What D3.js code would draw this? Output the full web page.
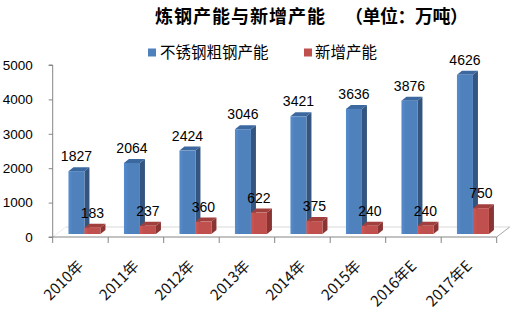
<!DOCTYPE html>
<html>
<head>
<meta charset="utf-8">
<script src="https://cdn.jsdelivr.net/npm/d3@7"></script>
<style>
  html, body { margin: 0; padding: 0; background: #fff; }
  svg { display: block; }
  text { font-family: "Liberation Sans", "Noto Sans CJK SC", sans-serif; }
  .cjk { font-family: "Noto Sans CJK SC", sans-serif; }
</style>
</head>
<body>
<svg id="chart" width="515" height="322"></svg>
<script>
// Capacity figures, 10k tonnes
const categories = ["2010年", "2011年", "2012年", "2013年", "2014年", "2015年", "2016年E", "2017年E"];
const stainlessCapacity = [1827, 2064, 2424, 3046, 3421, 3636, 3876, 4626];
const newCapacity = [183, 237, 360, 622, 375, 240, 240, 750];
const seriesNames = ["不锈钢粗钢产能", "新增产能"];
const yTicks = [0, 1000, 2000, 3000, 4000, 5000];

const svg = d3.select("#chart");

const x = d3.scaleBand().domain(categories).range([52.7, 496.7]).padding(0);
const y = d3.scaleLinear().domain([0, 5000]).range([237, 65]);

// Pseudo-3D geometry
const depthX = 5, depthY = 4;      // visible side/top depth
const lift = 3;                    // bars sit slightly behind the front floor edge
const barW = 16;
const floorDX = 13, floorDY = 10;  // floor depth

const series = [
  { name: seriesNames[0], values: stainlessCapacity, offset: -12,
    front: "#4f81bd", side: "#34557f", top: "#3c68a0" },
  { name: seriesNames[1], values: newCapacity, offset: 4,
    front: "#c0504d", side: "#8a3533", top: "#a13f3c" }
];

// Floor: back edge and side edges
const x0 = x.range()[0], x1 = x.range()[1], y0 = y(0);
const floor = svg.append("g");
floor.append("line")
  .attr("x1", x0 + floorDX).attr("x2", x1 + floorDX)
  .attr("y1", y0 - floorDY).attr("y2", y0 - floorDY)
  .attr("stroke", "#d9d9d9").attr("stroke-width", 1);
floor.append("line")
  .attr("x1", x1).attr("y1", y0).attr("x2", x1 + floorDX).attr("y2", y0 - floorDY)
  .attr("stroke", "#a6a6a6").attr("stroke-width", 1);
floor.append("line")
  .attr("x1", x0).attr("y1", y0).attr("x2", x0 + floorDX).attr("y2", y0 - floorDY)
  .attr("stroke", "#ececec").attr("stroke-width", 1);

// Gradient for front faces
const defs = svg.append("defs");
series.forEach((s, i) => {
  const g = defs.append("linearGradient").attr("id", "grad" + i)
    .attr("x1", "0").attr("x2", "1").attr("y1", "0").attr("y2", "0");
  g.append("stop").attr("offset", "0").attr("stop-color", d3.color(s.front).brighter(0.25));
  g.append("stop").attr("offset", "0.25").attr("stop-color", s.front);
  g.append("stop").attr("offset", "1").attr("stop-color", s.front);
});

// Bars
const bars = svg.append("g");
categories.forEach((cat, ci) => {
  const cx = x(cat) + x.bandwidth() / 2;
  series.forEach((s, si) => {
    const v = s.values[ci];
    const left = cx + s.offset;
    const right = left + barW;
    const top = y(v) - lift;
    const bottom = y(0) - lift;
    const g = bars.append("g");
    // side face
    g.append("path")
      .attr("d", `M${right},${top} L${right + depthX},${top - depthY} L${right + depthX},${bottom - depthY} L${right},${bottom} Z`)
      .attr("fill", s.side);
    // top face
    g.append("path")
      .attr("d", `M${left},${top} L${left + depthX},${top - depthY} L${right + depthX},${top - depthY} L${right},${top} Z`)
      .attr("fill", s.top);
    // front face
    g.append("rect")
      .attr("x", left).attr("y", top)
      .attr("width", barW).attr("height", bottom - top)
      .attr("fill", `url(#grad${si})`);
  });
});

// Value labels
const labels = svg.append("g").attr("font-size", "14px").attr("fill", "#000").attr("text-anchor", "middle");
categories.forEach((cat, ci) => {
  const cx = x(cat) + x.bandwidth() / 2;
  series.forEach(s => {
    const v = s.values[ci];
    labels.append("text")
      .attr("x", cx + s.offset + barW / 2)
      .attr("y", y(v) - lift - depthY - 6)
      .text(v);
  });
});

// Y axis
const yAxis = svg.append("g").attr("transform", `translate(${x0},0)`)
  .call(d3.axisLeft(y).tickValues(yTicks).tickSize(4).tickPadding(16).tickFormat(d3.format("d")));
yAxis.select(".domain").attr("stroke", "#868686").attr("d", `M-4,${y(5000)}H0V${y(0)}H-4`);
yAxis.selectAll(".tick line").attr("stroke", "#868686");
yAxis.selectAll(".tick text").attr("font-size", "13.5px").attr("fill", "#000")
  .style("font-family", "Liberation Sans, sans-serif");

// X axis
const xAxis = svg.append("g").attr("transform", `translate(0,${y0})`)
  .call(d3.axisBottom(x).tickSize(0).tickFormat(""));
xAxis.select(".domain").attr("stroke", "#868686").attr("d", `M${x0},0H${x1}`);
xAxis.selectAll(".tick").remove();
const boundaries = [x0].concat(categories.map(cat => x(cat) + x.bandwidth()));
xAxis.selectAll("line.sep").data(boundaries).enter().append("line")
  .attr("class", "sep")
  .attr("x1", d => d).attr("x2", d => d).attr("y1", 0).attr("y2", 6)
  .attr("stroke", "#868686");

svg.append("g").selectAll("text").data(categories).enter().append("text")
  .attr("class", "cjk")
  .attr("font-size", "15px")
  .attr("fill", "#111")
  .attr("text-anchor", "end")
  .attr("transform", d => `translate(${x(d) + x.bandwidth() / 2 + 4},${y0 + 30}) rotate(-45)`)
  .text(d => d);

// Title
const title = svg.append("g").attr("font-weight", "bold").attr("font-size", "18px").attr("fill", "#000");
title.append("text").attr("class", "cjk").attr("x", 155).attr("y", 23).attr("letter-spacing", "1px").text("炼钢产能与新增产能");
title.append("text").attr("class", "cjk").attr("x", 345).attr("y", 23).attr("letter-spacing", "-0.5px").text("（单位：万吨）");

// Legend
const legend = svg.append("g");
const legendItems = [
  { name: seriesNames[0], color: series[0].front, x: 148, tx: 160 },
  { name: seriesNames[1], color: series[1].front, x: 304, tx: 315 }
];
legendItems.forEach(it => {
  legend.append("rect").attr("x", it.x).attr("y", 48.5).attr("width", 8).attr("height", 8).attr("fill", it.color);
  legend.append("text").attr("class", "cjk").attr("x", it.tx).attr("y", 58)
    .attr("font-size", "15.5px").attr("fill", "#000").text(it.name);
});
</script>
</body>
</html>
